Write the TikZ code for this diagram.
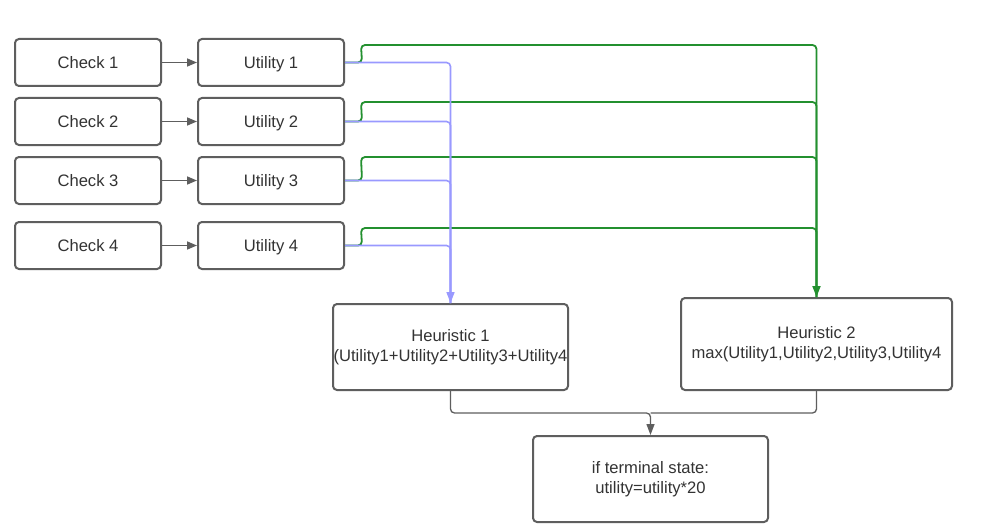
\documentclass[tikz,border=0pt]{standalone}
\usepackage{fontspec}
\setmainfont{Liberation Sans}
\usetikzlibrary{arrows.meta}
\definecolor{boxgray}{HTML}{5E5E5E}
\definecolor{txtgray}{HTML}{333333}
\definecolor{lgreen}{HTML}{23902F}
\definecolor{lblue}{HTML}{9999FF}
\definecolor{agray}{HTML}{5E5E5E}
\begin{document}
\begin{tikzpicture}[x=1pt,y=-1pt,
  box/.style={draw=boxgray, line width=2pt, rounded corners=4pt, fill=white, inner sep=0pt,
    align=center, text=txtgray, font=\fontsize{16.6}{20}\selectfont},
  smallbox/.style={box, minimum width=146pt, minimum height=47pt, text height=12pt, text depth=0pt},
  garrow/.style={draw=agray, line width=1.6pt, -{Triangle[length=10pt,width=8pt]}},
  gline/.style={draw=lgreen, line width=1.8pt, rounded corners=4pt},
  bline/.style={draw=lblue, line width=1.6pt, rounded corners=4pt},
  mline/.style={draw=agray, line width=1.3pt, rounded corners=4pt}]
\useasboundingbox (0,0) rectangle (990,532);
\fill[white] (0,0) rectangle (990,532);

\node[smallbox] (c1) at (88,62.5) {Check 1};
\node[smallbox] (c2) at (88,121.5) {Check 2};
\node[smallbox] (c3) at (88,180.5) {Check 3};
\node[smallbox] (c4) at (88,245.5) {Check 4};
\node[smallbox] (u1) at (271,62.5) {Utility 1};
\node[smallbox] (u2) at (271,121.5) {Utility 2};
\node[smallbox] (u3) at (271,180.5) {Utility 3};
\node[smallbox] (u4) at (271,245.5) {Utility 4};

\node[box, minimum width=235pt, minimum height=86pt] (h1) at (450.5,347) {Heuristic 1\\(Utility1+Utility2+Utility3+Utility4};
\node[box, minimum width=271pt, minimum height=92pt] (h2) at (816.5,344) {Heuristic 2\\max(Utility1,Utility2,Utility3,Utility4};
\node[box, minimum width=235pt, minimum height=86pt] (t) at (650.5,479) {if terminal state:\\utility=utility*20};

\foreach \i in {1,2,3,4} {
  \draw[garrow] (c\i.east) -- (u\i.west);
}

% green connectors to Heuristic 2
\draw[gline] (u1.east) -- ++(17,0) -- (361,45) -| (h2.north);
\draw[gline] (u2.east) -- ++(17,0) -- (361,102) -| (h2.north);
\draw[gline] (u3.east) -- ++(17,0) -- (361,157) -| (h2.north);
\draw[gline, -{Triangle[length=11pt,width=8pt]}] (u4.east) -- ++(17,0) -- (361,228) -| (h2.north);

% blue connectors to Heuristic 1
\draw[bline] (u1.east) -| (h1.north);
\draw[bline] (u2.east) -| (h1.north);
\draw[bline] (u3.east) -| (h1.north);
\draw[bline, -{Triangle[length=11pt,width=8pt]}] (u4.east) -| (h1.north);

% merge to terminal
\coordinate (m) at (650.5,413);
\draw[mline] (h2.south) |- (m);
\draw[mline, -{Triangle[length=11pt,width=8pt]}] (h1.south) |- (m) -- (t.north);
\end{tikzpicture}
\end{document}
